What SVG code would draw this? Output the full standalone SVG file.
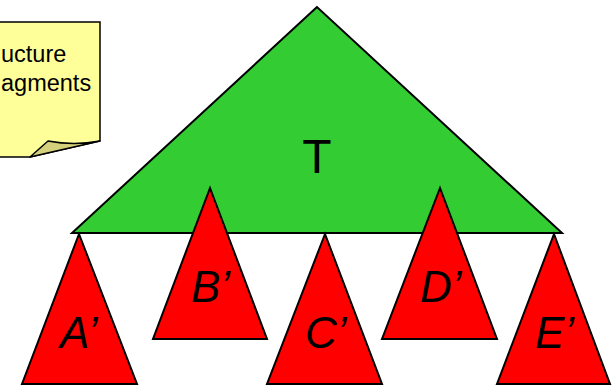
<svg xmlns="http://www.w3.org/2000/svg" width="614" height="385" viewBox="0 0 614 385">
<style>
.tri{stroke:#000;stroke-width:2;stroke-linejoin:miter}
.red{fill:#ff0000}
.lbl{font-family:"Liberation Sans",Arial,sans-serif;font-style:italic;font-size:44px;fill:#000}
.note{font-family:"Liberation Sans",Arial,sans-serif;font-size:23.5px;fill:#000}
</style>
<rect width="614" height="385" fill="#fff"/>
<g id="note">
<path d="M-5,22 L100,22 L100,141 L30,157 L-5,157 Z" fill="#ffff99" stroke="#000" stroke-width="1.5"/>
<path d="M30,157 L48,141 Q74,146 100,141 Z" fill="#d4d07c" stroke="#000" stroke-width="1.5" stroke-linejoin="round"/>
<text class="note" x="1" y="62">ucture</text>
<text class="note" x="1" y="91">agments</text>
</g>
<g id="T">
<polygon class="tri" points="317,7 72,233 562,233" fill="#33cc33"/>
<text x="317" y="173" text-anchor="middle" font-family="Liberation Sans, Arial, sans-serif" font-size="48">T</text>
</g>
<g id="A">
<polygon class="tri red" points="79,234 22,384 137,384"/>
<text class="lbl" x="60" y="348">A’</text>
</g>
<g id="B">
<polygon class="tri red" points="210,188 153,339 267,339"/>
<text class="lbl" x="191" y="302">B’</text>
</g>
<g id="C">
<polygon class="tri red" points="325,234 267,384 382,384"/>
<text class="lbl" x="305" y="348">C’</text>
</g>
<g id="D">
<polygon class="tri red" points="440,188 382,339 497,339"/>
<text class="lbl" x="420" y="302">D’</text>
</g>
<g id="E">
<polygon class="tri red" points="554,234 497,384 610,384"/>
<text class="lbl" x="535" y="348">E’</text>
</g>
<g id="connectors"/>
</svg>
